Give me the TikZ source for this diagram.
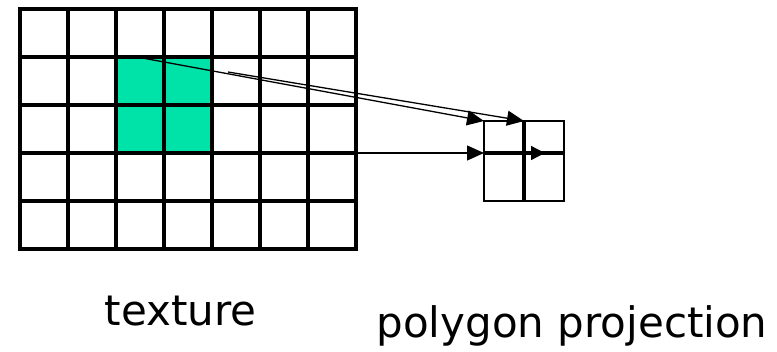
\documentclass[tikz,border=0pt]{standalone}
\usepackage{fontspec}
\setmainfont{DejaVu Sans}
\usetikzlibrary{arrows.meta}
\definecolor{texel}{RGB}{0,227,168}
\tikzset{
  gridline/.style={line width=3.2pt, line cap=rect},
  outline/.style={line width=2pt},
  ray/.style={line width=1.3pt, -{Triangle[length=17pt,width=15pt]}},
  caption/.style={font=\fontsize{42}{46}\selectfont, inner sep=0pt, anchor=base}
}
\begin{document}
\begin{tikzpicture}[x=1pt,y=-1pt]
\useasboundingbox (0,0) rectangle (777,351);
% highlighted texels of the texture
\fill[texel] (116,57) rectangle (212,153);
% texture grid, 7 x 5 texels
\foreach \i in {0,...,7} \draw[gridline] (20+48*\i,9) -- (20+48*\i,249);
\foreach \j in {0,...,5} \draw[gridline] (20,9+48*\j) -- (356,9+48*\j);
% projected polygon, 2 x 2 pixels
\coordinate (pnw) at (484,121);
\coordinate (pn)  at (524,121);
\coordinate (pw)  at (484,153);
\coordinate (pc)  at (524,153);
\draw[outline] (pnw) rectangle (564,201);
\draw[gridline, line cap=butt] (pn) -- (524,201);
\draw[gridline, line cap=butt] (pw) -- (564,153);
% sample points and mapping rays
\coordinate (s1) at (137,57);
\coordinate (s2) at (228,72);
\coordinate (s3) at (356,153);
\coordinate (p4) at (545,153);
\draw[ray] (s1) -- (pnw);
\draw[ray] (s2) -- (pn);
\draw[ray] (s3) -- (pw);
\draw[ray, -{Triangle[length=14pt,width=14pt]}] (pc) -- (p4);
% captions
\node[caption] (tex) at (180.5,325) {texture};
\node[caption] (proj) at (572,337) {polygon projection};
\end{tikzpicture}
\end{document}
